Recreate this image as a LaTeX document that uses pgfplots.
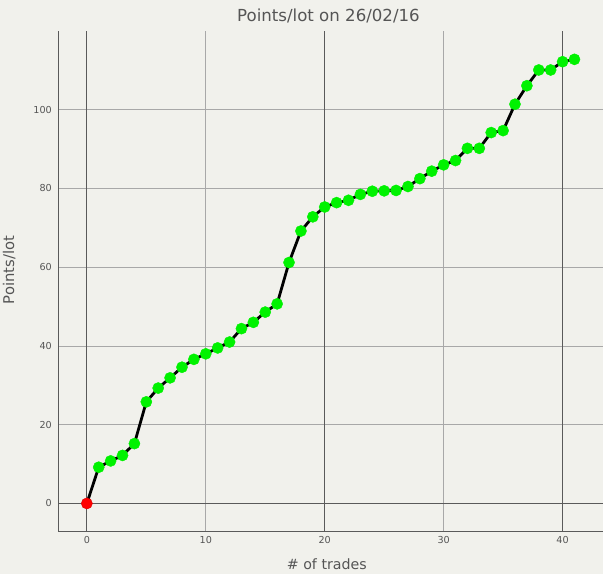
\documentclass[border=0pt]{standalone}
\usepackage{pgfplots}
\pgfplotsset{compat=1.18}
\usepackage{pgfplotstable}
\usepackage{fontspec}
\setmainfont{DejaVu Sans}

\definecolor{bgcol}{HTML}{F1F1EC}
\definecolor{darkgrid}{HTML}{5A5A5A}
\definecolor{lightgrid}{HTML}{A8A8A8}
\definecolor{txtgray}{HTML}{555555}
\definecolor{ptgreen}{HTML}{00F200}

% points/lot after each trade
\pgfplotstableread{
n   pts
0   0.0
1   9.2
2   10.8
3   12.2
4   15.2
5   25.8
6   29.3
7   31.9
8   34.6
9   36.6
10  38.0
11  39.5
12  41.0
13  44.4
14  46.0
15  48.6
16  50.7
17  61.2
18  69.2
19  72.8
20  75.3
21  76.4
22  77.0
23  78.5
24  79.3
25  79.4
26  79.5
27  80.5
28  82.5
29  84.4
30  86.0
31  87.1
32  90.2
33  90.2
34  94.2
35  94.7
36  101.4
37  106.1
38  110.1
39  110.1
40  112.2
41  112.8
}\trades

\begin{document}
\begin{tikzpicture}
\fill[bgcol] (-58.3pt,-43pt) rectangle (544.7pt,531pt);
\begin{axis}[
  at={(0,0)}, anchor=south west,
  scale only axis,
  width=544.7pt, height=500pt,
  xmin=-2.4, xmax=43.4,
  ymin=-7, ymax=120,
  axis lines=left,
  axis line style={-, darkgrid, line width=1pt},
  xtick={10,30}, extra x ticks={0,20,40},
  ytick={20,40,60,80,100}, extra y ticks={0},
  major tick length=0pt,
  grid=major,
  major grid style={lightgrid, line width=0.9pt},
  extra tick style={major grid style={darkgrid, line width=1pt}},
  tick label style={font=\fontsize{9.6}{11}\selectfont, text=txtgray},
  /pgf/number format/assume math mode=true,
  yticklabel style={xshift=-3pt},
  xticklabel style={yshift=-2pt},
  title={Points/lot on 26/02/16},
  title style={font=\fontsize{16.6}{19}\selectfont, text=txtgray,
    at={(axis description cs:0.496,1.018)}, anchor=center},
  xlabel={\# of trades},
  xlabel style={font=\fontsize{14.2}{17}\selectfont, text=txtgray,
    at={(axis description cs:0.493,-0.066)}, anchor=center},
  ylabel={Points/lot},
  ylabel style={font=\fontsize{14.8}{17}\selectfont, text=txtgray,
    at={(axis description cs:-0.09,0.522)}, anchor=center},
  clip=false,
]
\addplot[black, line width=2.8pt, no marks] table[x=n, y=pts] {\trades};
\addplot[only marks, mark=*, mark size=5.6pt,
  mark options={fill=ptgreen, draw=ptgreen}]
  table[x=n, y=pts, skip coords between index={0}{1}] {\trades};
\addplot[only marks, mark=*, mark size=5.6pt,
  mark options={fill=red, draw=red!85!black}]
  coordinates {(0,0)};
\end{axis}
\pgfresetboundingbox
\path (-58.3pt,-43pt) rectangle (544.7pt,531pt);
\end{tikzpicture}
\end{document}
